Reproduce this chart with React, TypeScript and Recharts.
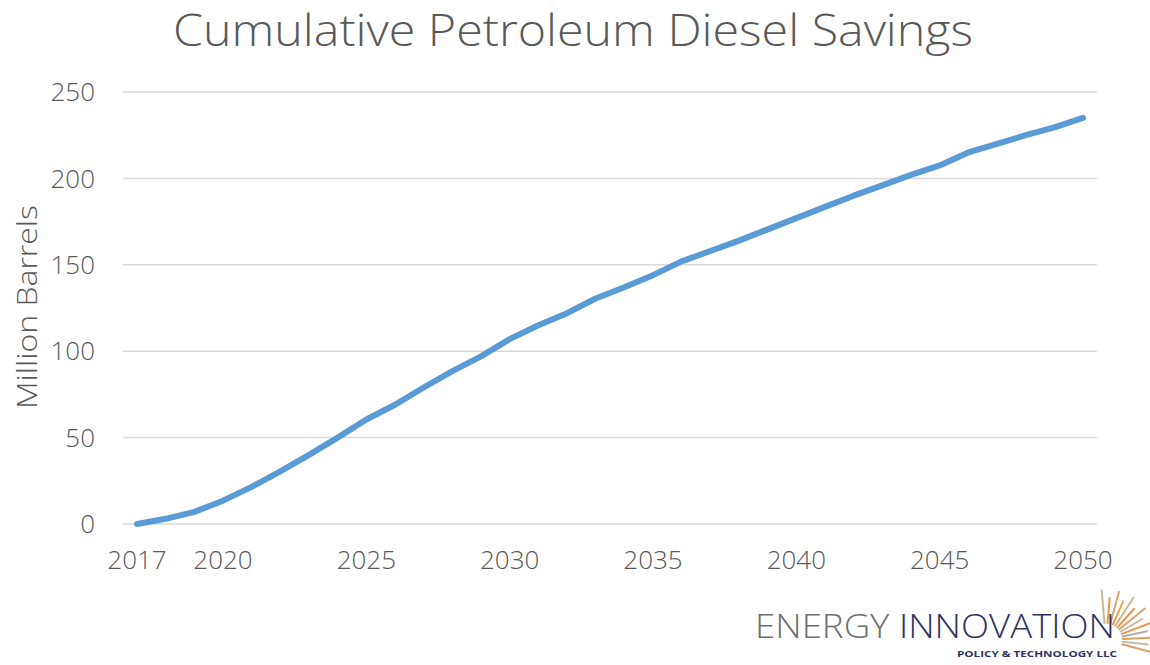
import React from 'react';
import { LineChart, Line, XAxis, YAxis, CartesianGrid } from 'recharts';

const years = [2017, 2018, 2019, 2020, 2021, 2022, 2023, 2024, 2025, 2026, 2027, 2028, 2029, 2030, 2031, 2032, 2033, 2034, 2035, 2036, 2037, 2038, 2039, 2040, 2041, 2042, 2043, 2044, 2045, 2046, 2047, 2048, 2049, 2050];
const savings = [0, 3, 7, 13.5, 21.5, 30.5, 40, 50, 60.5, 69, 79, 88.5, 97, 107, 115, 122, 130.5, 137, 144, 152, 158, 164, 170.5, 177, 183.5, 190, 196, 202, 207.5, 215, 220, 225, 229.5, 235];
const xTicks = [2017, 2020, 2025, 2030, 2035, 2040, 2045, 2050];
const yTicks = [0, 50, 100, 150, 200, 250];

const title = 'Cumulative Petroleum Diesel Savings';
const yLabel = 'Million Barrels';
const logoA = 'ENERGY ';
const logoB = 'INNOVATION';
const logoSub = 'POLICY & TECHNOLOGY LLC';

const data = years.map((year, i) => ({ year, savings: savings[i] }));

const rayAngles = [-95, -85, -75, -66, -57, -48, -39, -30, -21, -12, -3, 6, 15];
const rayColors = ['#c9b79c', '#e29a4e', '#d6a56c', '#e8a24f', '#cdb392', '#e39446', '#d9a466', '#c6b7a2', '#e49b4f', '#b9b0a6', '#e0a05c', '#c4b9ad', '#d99a5a'];

const font = '"Open Sans", "Liberation Sans", sans-serif';

export default function App() {
  const cx = 1106;
  const cy = 640;
  return (
    <div style={{ position: 'absolute', left: 0, top: 0, width: 1150, height: 665, background: '#fff', fontFamily: font }}>
      <LineChart width={1150} height={665} data={data} margin={{ top: 92, right: 53, bottom: 111, left: 0 }}>
        <CartesianGrid vertical={false} stroke="#d9d9d9" strokeWidth={1.5} />
        <XAxis
          dataKey="year"
          type="number"
          domain={[2017, 2050]}
          ticks={xTicks}
          interval={0}
          padding={{ left: 14, right: 14 }}
          axisLine={false}
          tickLine={false}
          tickMargin={21}
          height={30}
          tick={{ fill: '#595959', fontSize: 26, fontWeight: 300, fontFamily: font }}
        />
        <YAxis
          domain={[0, 250]}
          ticks={yTicks}
          width={123}
          axisLine={false}
          tickLine={false}
          tickMargin={22}
          tick={{ fill: '#595959', fontSize: 26, fontWeight: 300, fontFamily: font }}
        />
        <Line
          type="linear"
          dataKey="savings"
          stroke="#5b9bd5"
          strokeWidth={6}
          dot={false}
          strokeLinecap="round"
          strokeLinejoin="round"
          isAnimationActive={false}
        />
      </LineChart>
      <svg width={1150} height={665} style={{ position: 'absolute', left: 0, top: 0, pointerEvents: 'none' }}>
        <text x={173} y={46} fontSize={44} fill="#595959" fontWeight={300} fontFamily={font} textLength={800} lengthAdjust="spacingAndGlyphs">
          {title}
        </text>
        <text
          x={0}
          y={0}
          transform="translate(37,307) rotate(-90)"
          textAnchor="middle"
          fontSize={27}
          fill="#595959"
          fontWeight={300}
          fontFamily={font}
          textLength={204}
          lengthAdjust="spacingAndGlyphs"
        >
          {yLabel}
        </text>
        {rayAngles.map((a, i) => {
          const r = (a * Math.PI) / 180;
          const r1 = 17;
          const r2 = i % 2 === 0 ? 50 : 42;
          return (
            <line
              key={i}
              x1={cx + r1 * Math.cos(r)}
              y1={cy + r1 * Math.sin(r)}
              x2={cx + r2 * Math.cos(r)}
              y2={cy + r2 * Math.sin(r)}
              stroke={rayColors[i]}
              strokeWidth={2}
              strokeLinecap="round"
            />
          );
        })}
        <text x={755} y={638} fontSize={33} fontWeight={300} fontFamily={font} textLength={360} lengthAdjust="spacingAndGlyphs">
          <tspan fill="#6e6e6e">{logoA}</tspan>
          <tspan fill="#2e3362">{logoB}</tspan>
        </text>
        <text x={957} y={657} fontSize={9} fontWeight={700} fill="#2e3362" fontFamily={font} textLength={160} lengthAdjust="spacingAndGlyphs">
          {logoSub}
        </text>
      </svg>
    </div>
  );
}
